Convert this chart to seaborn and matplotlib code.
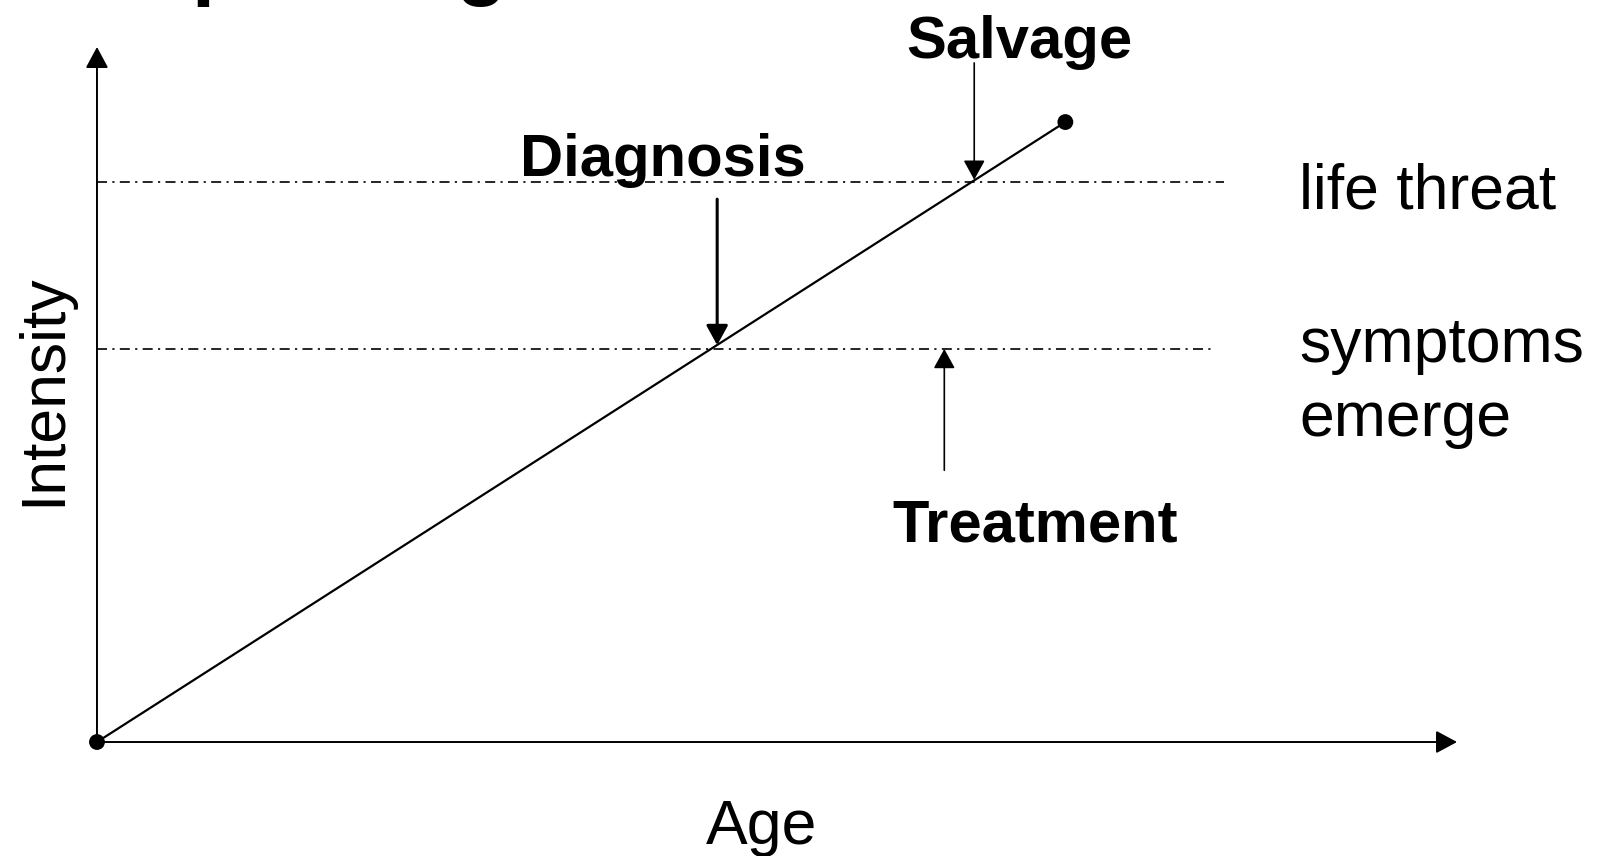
import matplotlib
matplotlib.use("Agg")
import matplotlib.pyplot as plt
import seaborn as sns

sns.set_theme(style="white")
plt.rcParams["font.family"] = ["Liberation Sans", "DejaVu Sans"]
plt.rcParams["text.color"] = "black"

# ==================================================
# DATA (age / intensity units)
# ==================================================

course_age = [0.0, 7.12]
course_intensity = [0.0, 8.92]

threshold_names = ["life threat", "symptoms\nemerge"]
threshold_levels = [8.06, 5.655]
threshold_ends = [8.29, 8.20]

event_names = ["Salvage", "Diagnosis", "Treatment"]
event_age = [6.45, 4.56, 6.23]
event_from = [9.77, 7.81, 3.91]
event_to = [8.09, 5.71, 5.655]
event_label_age = [6.78, 4.16, 6.90]
event_label_int = [9.84, 8.14, 2.88]

axis_max_age = 10.0
axis_max_intensity = 10.0

# ==================================================
# FIGURE
# ==================================================

fig = plt.figure(figsize=(16, 8.56), dpi=100)
ax = fig.add_axes([0, 0, 1, 1])
ax.set_xlim(-0.713, 11.051)
ax.set_ylim(-1.640, 10.676)
ax.axis("off")

# axes drawn as arrows
axis_arrow = dict(arrowstyle="-|>,head_length=1.08,head_width=0.58",
                  color="black", lw=1.4, shrinkA=0, shrinkB=0)
ax.annotate("", xy=(axis_max_age, 0), xytext=(0, 0), arrowprops=axis_arrow)
ax.annotate("", xy=(0, axis_max_intensity), xytext=(0, 0), arrowprops=axis_arrow)

# threshold lines (dash-dot)
for level, end in zip(threshold_levels, threshold_ends):
    ax.plot([0, end], [level, level], color="black", lw=1.2,
            linestyle=(0, (6, 3.2, 1.3, 3.2)))

# disease course
sns.lineplot(x=course_age, y=course_intensity, color="black", lw=1.6, ax=ax)
sns.scatterplot(x=course_age, y=course_intensity, color="black", s=130,
                edgecolor="none", ax=ax, zorder=5)

# event arrows
for i, name in enumerate(event_names):
    lw = 2.2 if name == "Diagnosis" else 1.2
    ax.annotate("", xy=(event_age[i], event_to[i]),
                xytext=(event_age[i], event_from[i]),
                arrowprops=dict(arrowstyle="-|>,head_length=1.0,head_width=0.55",
                                color="black", lw=lw, shrinkA=0, shrinkB=0))
    ax.text(event_label_age[i], event_label_int[i], name, ha="center",
            va="baseline", fontsize=43, fontweight="bold", color="black")

# threshold labels
ax.text(8.84, 7.67, threshold_names[0], ha="left", va="baseline",
        fontsize=45, color="black")
for j, line in enumerate(threshold_names[1].split("\n")):
    ax.text(8.84, 5.47 - j * 1.065, line, ha="left", va="baseline",
            fontsize=45, color="black")

# axis labels
ax.text(4.89, -1.468, "Age", ha="center", va="baseline", fontsize=45,
        color="black")
ax.text(-0.272, 5.065, "Intensity", ha="center", va="baseline", fontsize=45,
        color="black", rotation=90, rotation_mode="anchor")

# slide title, cut off at the top edge as in the source picture
fig.text(39 / 1600, 1 + 10 / 856, "Simple diagnosis", ha="left",
         va="baseline", fontsize=60, fontweight="bold", color="black")

fig.savefig("out.png", dpi=100)
